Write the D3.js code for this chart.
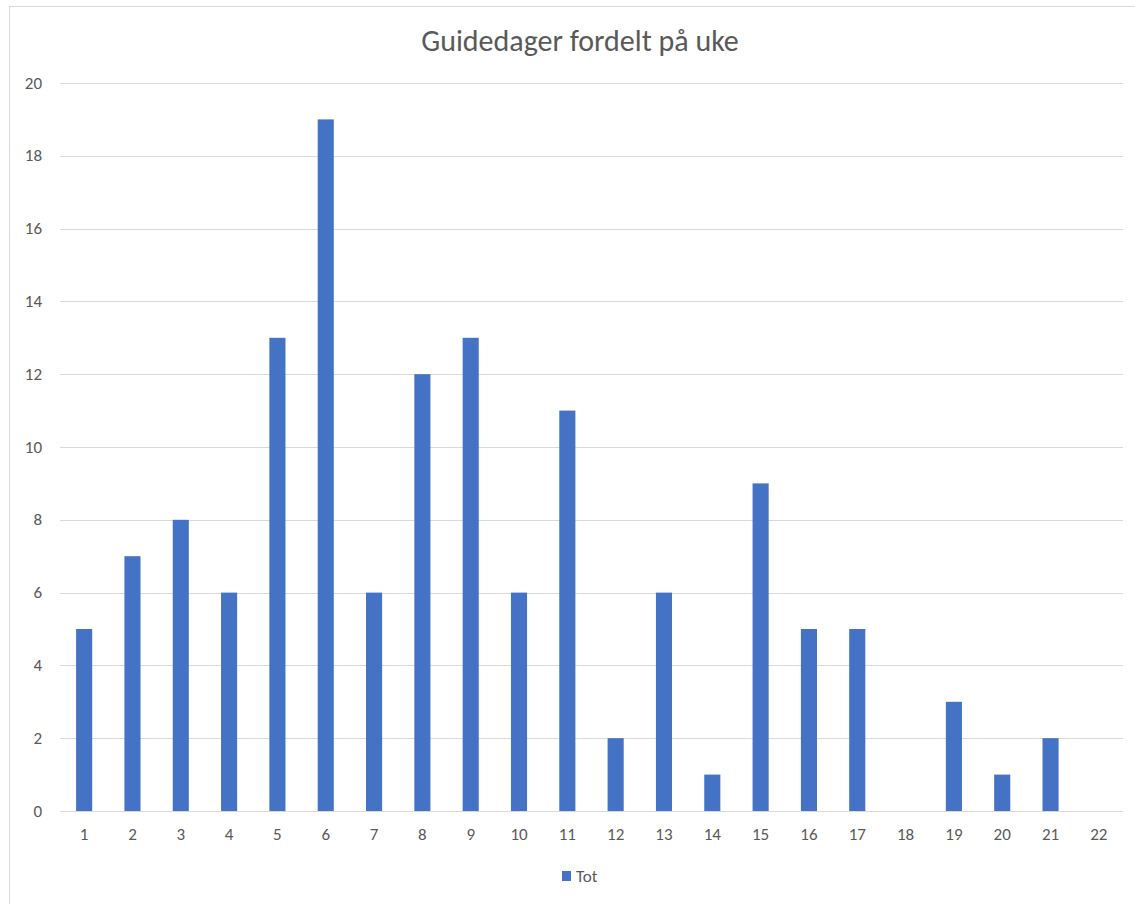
<!DOCTYPE html>
<html><head>
<meta charset="utf-8">
<script src="https://d3js.org/d3.v7.min.js"></script>
<style>
  body { margin: 0; background: #fff; }
  text { font-family: Carlito, Calibri, "Open Sans", sans-serif; fill: #595959; }
</style>
</head>
<body>
<svg id="chart" width="1135" height="904"></svg>
<script>

// Week numbers and guide days per week
const weeks = ["1","2","3","4","5","6","7","8","9","10","11","12","13","14","15","16","17","18","19","20","21","22"];
const guideDays = [5, 7, 8, 6, 13, 19, 6, 12, 13, 6, 11, 2, 6, 1, 9, 5, 5, 0, 3, 1, 2, 0];
const yTicks = [0, 2, 4, 6, 8, 10, 12, 14, 16, 18, 20];

const svg = d3.select("#chart");
const barColor = "#4472c4";

// chart frame
svg.append("rect")
   .attr("x", 9.5).attr("y", 6.5)
   .attr("width", 1140).attr("height", 910)
   .attr("fill", "none").attr("stroke", "#d9d9d9");

const plotLeft = 60, plotRight = 1123, plotTop = 83, plotBottom = 811;

const x = d3.scaleBand().domain(weeks).range([plotLeft, plotRight]).paddingInner(0.667).paddingOuter(0.333);
const y = d3.scaleLinear().domain([0, 20]).range([plotBottom, plotTop]);

// gridlines
svg.append("g").selectAll("line").data(yTicks)
   .join("line")
   .attr("x1", plotLeft).attr("x2", plotRight)
   .attr("y1", d => Math.round(y(d)) + 0.5).attr("y2", d => Math.round(y(d)) + 0.5)
   .attr("stroke", "#d9d9d9").attr("stroke-width", 1);

// y labels
svg.append("g").selectAll("text").data(yTicks)
   .join("text")
   .attr("x", 42).attr("y", d => y(d))
   .attr("dy", "0.33em")
   .attr("text-anchor", "end")
   .style("font-size", "17px")
   .text(d => d);

// bars
svg.append("g").selectAll("rect").data(guideDays)
   .join("rect")
   .attr("x", (d, i) => x(weeks[i]))
   .attr("width", x.bandwidth())
   .attr("y", d => y(d))
   .attr("height", d => y(0) - y(d))
   .attr("fill", barColor);

// x labels
svg.append("g").selectAll("text").data(weeks)
   .join("text")
   .attr("x", d => x(d) + x.bandwidth() / 2)
   .attr("y", 834)
   .attr("dy", "0.33em")
   .attr("text-anchor", "middle")
   .style("font-size", "17px")
   .text(d => d);

// title
svg.append("text")
   .attr("x", 580).attr("y", 41)
   .attr("dy", "0.33em")
   .attr("text-anchor", "middle")
   .style("font-size", "30px")
   .text("Guidedager fordelt på uke");

// legend
svg.append("rect")
   .attr("x", 562).attr("y", 871)
   .attr("width", 9).attr("height", 10)
   .attr("fill", barColor);
svg.append("text")
   .attr("x", 576).attr("y", 876)
   .attr("dy", "0.33em")
   .style("font-size", "17px")
   .text("Tot");

</script>
</body>
</html>
